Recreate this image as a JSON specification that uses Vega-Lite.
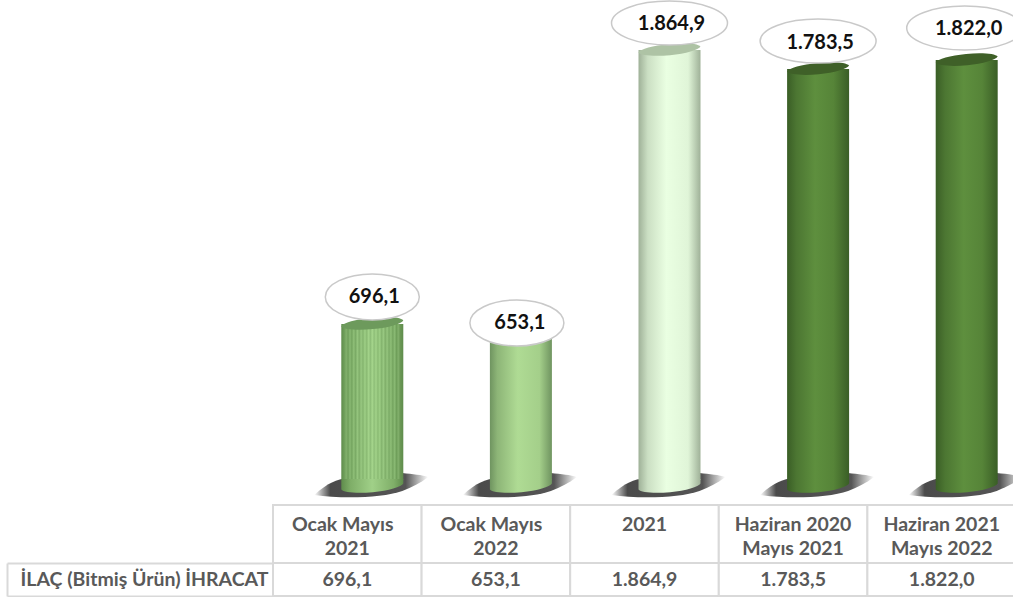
{"$schema":"https://vega.github.io/schema/vega-lite/v6.json","padding":{"left":0,"right":0,"top":-2,"bottom":0},"background":"white","spacing":0,"bounds":"flush","config":{"view":{"stroke":null},"text":{"font":"Lato"},"axis":{"labelFont":"Lato"}},
"data":{"values":[
{"donem":"Ocak Mayıs 2021","deger":696.1,"etiket":"696,1","satir1":"Ocak Mayıs","satir2":"2021"},
{"donem":"Ocak Mayıs 2022","deger":653.1,"etiket":"653,1","satir1":"Ocak Mayıs","satir2":"2022"},
{"donem":"2021","deger":1864.9,"etiket":"1.864,9","satir1":"2021","satir2":""},
{"donem":"Haziran 2020 Mayıs 2021","deger":1783.5,"etiket":"1.783,5","satir1":"Haziran 2020","satir2":"Mayıs 2021"},
{"donem":"Haziran 2021 Mayıs 2022","deger":1822.0,"etiket":"1.822,0","satir1":"Haziran 2021","satir2":"Mayıs 2022"}]},
"vconcat":[
{"width":743,"height":505,
"encoding":{"x":{"field":"donem","type":"nominal","sort":null,"axis":null,"scale":{"domain":["Ocak Mayıs 2021","Ocak Mayıs 2022","2021","Haziran 2020 Mayıs 2021","Haziran 2021 Mayıs 2022"],"range":[25,768],"padding":0}},
"y":{"field":"deger","type":"quantitative","axis":null,"stack":null,"scale":{"domain":[-76.8,2078.5],"nice":false,"zero":false}}},
"layer":[
{"mark":{"type":"point","filled":true,"opacity":1,"fill":{"gradient":"linear","x1":0,"x2":1,"y1":0,"y2":0,"stops":[{"offset":0,"color":"rgba(55,55,55,0)"},{"offset":0.14,"color":"rgba(55,55,55,0.9)"},{"offset":0.8,"color":"rgba(55,55,55,0.85)"},{"offset":1,"color":"rgba(55,55,55,0)"}]}},
"encoding":{"y":{"datum":0,"type":"quantitative"},"size":{"value":4},"shape":{"value":"M-58,8 C-45,-4 -35,-8 -25,-9 L30,-14 C40,-13 50,-12 56,-10 C48,-4 40,0 30,4 C10,11 -30,12 -58,8 Z"}}},
{"transform":[{"filter":"datum.donem==='Ocak Mayıs 2021'"}],"layer":[
{"mark":{"type":"bar","size":62,"fill":{"gradient":"linear","x1":0,"x2":1,"y1":0,"y2":0,"stops":[{"offset":0,"color":"#5f8c4c"},{"offset":0.05,"color":"#6f9f5a"},{"offset":0.08,"color":"#82b06c"},{"offset":0.11,"color":"#6f9f5a"},{"offset":0.14,"color":"#8aba74"},{"offset":0.17,"color":"#74a45f"},{"offset":0.2,"color":"#8fbf78"},{"offset":0.23,"color":"#7aaa65"},{"offset":0.26,"color":"#95c57e"},{"offset":0.29,"color":"#7fae69"},{"offset":0.32,"color":"#98c881"},{"offset":0.35,"color":"#84b46e"},{"offset":0.38,"color":"#9ecf86"},{"offset":0.41,"color":"#8aba73"},{"offset":0.44,"color":"#a3d38a"},{"offset":0.47,"color":"#8ebe78"},{"offset":0.5,"color":"#a6d68d"},{"offset":0.53,"color":"#8ebe78"},{"offset":0.56,"color":"#a3d38a"},{"offset":0.59,"color":"#8aba73"},{"offset":0.62,"color":"#9ecf86"},{"offset":0.65,"color":"#84b46e"},{"offset":0.68,"color":"#98c881"},{"offset":0.71,"color":"#7fae69"},{"offset":0.74,"color":"#95c57e"},{"offset":0.77,"color":"#7aaa65"},{"offset":0.8,"color":"#8fbf78"},{"offset":0.83,"color":"#74a45f"},{"offset":0.86,"color":"#8aba74"},{"offset":0.89,"color":"#6f9f5a"},{"offset":0.92,"color":"#82b06c"},{"offset":0.95,"color":"#6a9855"},{"offset":1,"color":"#5f8c4c"}]}},"encoding":{"y2":{"datum":30}}},
{"mark":{"type":"point","filled":true,"opacity":1,"fill":{"gradient":"linear","x1":0,"x2":1,"y1":0,"y2":0,"stops":[{"offset":0,"color":"#5f8c4c"},{"offset":0.15,"color":"#7fae68"},{"offset":0.5,"color":"#a0d088"},{"offset":0.85,"color":"#7fae68"},{"offset":1,"color":"#5f8c4c"}]}},"encoding":{"y":{"datum":0,"type":"quantitative"},"size":{"value":4},"shape":{"value":"M-31,2.5 A31.4,6.5 -5.5 0 0 31,-3.5 L31,-8 L-31,-8 Z"}}}]},
{"transform":[{"filter":"datum.donem==='Ocak Mayıs 2022'"}],"layer":[
{"mark":{"type":"bar","size":62,"fill":{"gradient":"linear","x1":0,"x2":1,"y1":0,"y2":0,"stops":[{"offset":0,"color":"#6f9460"},{"offset":0.12,"color":"#8db577"},{"offset":0.45,"color":"#afdb94"},{"offset":0.8,"color":"#a4cf8a"},{"offset":1,"color":"#6f9460"}]}},"encoding":{"y2":{"datum":30}}},
{"mark":{"type":"point","filled":true,"opacity":1,"fill":{"gradient":"linear","x1":0,"x2":1,"y1":0,"y2":0,"stops":[{"offset":0,"color":"#6f9460"},{"offset":0.12,"color":"#8db577"},{"offset":0.45,"color":"#afdb94"},{"offset":0.8,"color":"#a4cf8a"},{"offset":1,"color":"#6f9460"}]}},"encoding":{"y":{"datum":0,"type":"quantitative"},"size":{"value":4},"shape":{"value":"M-31,2.5 A31.4,6.5 -5.5 0 0 31,-3.5 L31,-8 L-31,-8 Z"}}}]},
{"transform":[{"filter":"datum.donem==='2021'"}],"layer":[
{"mark":{"type":"bar","size":62,"fill":{"gradient":"linear","x1":0,"x2":1,"y1":0,"y2":0,"stops":[{"offset":0,"color":"#9fb198"},{"offset":0.15,"color":"#cbdfc3"},{"offset":0.45,"color":"#eaffe2"},{"offset":0.8,"color":"#e0f5d8"},{"offset":1,"color":"#9fb198"}]}},"encoding":{"y2":{"datum":30}}},
{"mark":{"type":"point","filled":true,"opacity":1,"fill":{"gradient":"linear","x1":0,"x2":1,"y1":0,"y2":0,"stops":[{"offset":0,"color":"#9fb198"},{"offset":0.15,"color":"#cbdfc3"},{"offset":0.45,"color":"#eaffe2"},{"offset":0.8,"color":"#e0f5d8"},{"offset":1,"color":"#9fb198"}]}},"encoding":{"y":{"datum":0,"type":"quantitative"},"size":{"value":4},"shape":{"value":"M-31,2.5 A31.4,6.5 -5.5 0 0 31,-3.5 L31,-8 L-31,-8 Z"}}}]},
{"transform":[{"filter":"datum.donem==='Haziran 2020 Mayıs 2021' || datum.donem==='Haziran 2021 Mayıs 2022'"}],"layer":[
{"mark":{"type":"bar","size":62,"fill":{"gradient":"linear","x1":0,"x2":1,"y1":0,"y2":0,"stops":[{"offset":0,"color":"#3a5e26"},{"offset":0.15,"color":"#4c7632"},{"offset":0.45,"color":"#5e8f3e"},{"offset":0.75,"color":"#568438"},{"offset":1,"color":"#3a5e26"}]}},"encoding":{"y2":{"datum":30}}},
{"mark":{"type":"point","filled":true,"opacity":1,"fill":{"gradient":"linear","x1":0,"x2":1,"y1":0,"y2":0,"stops":[{"offset":0,"color":"#3a5e26"},{"offset":0.15,"color":"#4c7632"},{"offset":0.45,"color":"#5e8f3e"},{"offset":0.75,"color":"#568438"},{"offset":1,"color":"#3a5e26"}]}},"encoding":{"y":{"datum":0,"type":"quantitative"},"size":{"value":4},"shape":{"value":"M-31,2.5 A31.4,6.5 -5.5 0 0 31,-3.5 L31,-8 L-31,-8 Z"}}}]},
{"mark":{"type":"point","filled":true,"opacity":1},"encoding":{"size":{"value":4},"shape":{"value":"M-31,2.5 A31.4,6.5 -5.5 0 1 31,-3.5 A31.4,6.5 -5.5 0 1 -31,2.5 Z"},
"fill":{"field":"donem","type":"nominal","legend":null,"scale":{"domain":["Ocak Mayıs 2021","Ocak Mayıs 2022","2021","Haziran 2020 Mayıs 2021","Haziran 2021 Mayıs 2022"],"range":["#6d9a5c","#7fa86c","#aec3a5","#3f6028","#3f6028"]}}}},
{"mark":{"type":"point","filled":true,"opacity":1,"fill":"white","stroke":"#c9c9c9","strokeWidth":1.5},"encoding":{"size":{"value":4},
"shape":{"field":"donem","type":"nominal","legend":null,"scale":{"domain":["Ocak Mayıs 2021","Ocak Mayıs 2022","2021","Haziran 2020 Mayıs 2021","Haziran 2021 Mayıs 2022"],"range":[
"M-47,-27 A47,23 0 1 1 47,-27 A47,23 0 1 1 -47,-27 Z",
"M-51,-11 A47,23 0 1 1 43,-11 A47,23 0 1 1 -51,-11 Z",
"M-58,-27 A58,22 0 1 1 58,-27 A58,22 0 1 1 -58,-27 Z",
"M-58,-28 A58,22 0 1 1 58,-28 A58,22 0 1 1 -58,-28 Z",
"M-60,-32 A58,22 0 1 1 56,-32 A58,22 0 1 1 -60,-32 Z"]}}}},
{"transform":[{"filter":"datum.donem!=='Ocak Mayıs 2022' && datum.donem!=='Haziran 2021 Mayıs 2022'"}],"mark":{"type":"text","font":"Lato","fontWeight":"bold","fontSize":20,"color":"#111111","xOffset":2,"yOffset":-26.5},"encoding":{"text":{"field":"etiket"}}},
{"transform":[{"filter":"datum.donem==='Ocak Mayıs 2022'"}],"mark":{"type":"text","font":"Lato","fontWeight":"bold","fontSize":20,"color":"#111111","xOffset":-1,"yOffset":-11},"encoding":{"text":{"field":"etiket"}}},
{"transform":[{"filter":"datum.donem==='Haziran 2021 Mayıs 2022'"}],"mark":{"type":"text","font":"Lato","fontWeight":"bold","fontSize":20,"color":"#111111","xOffset":2,"yOffset":-31},"encoding":{"text":{"field":"etiket"}}}
]},
{"width":743,"height":58,
"encoding":{"x":{"field":"donem","type":"nominal","sort":null,"axis":null,"scale":{"domain":["Ocak Mayıs 2021","Ocak Mayıs 2022","2021","Haziran 2020 Mayıs 2021","Haziran 2021 Mayıs 2022"],"padding":0}}},
"layer":[
{"mark":{"type":"rect","fill":"white","stroke":"#d9d9d9","strokeWidth":2}},
{"transform":[{"filter":"datum.satir1==='Ocak Mayıs'"}],"mark":{"type":"text","font":"Lato","fontWeight":"bold","fontSize":19.5,"color":"#595959","xOffset":-4.5},"encoding":{"text":{"field":"satir1"},"y":{"datum":"1","type":"nominal","axis":null,"scale":{"domain":["1","2"],"range":[8,56]}}}},
{"transform":[{"filter":"datum.satir1!=='Ocak Mayıs'"}],"mark":{"type":"text","font":"Lato","fontWeight":"bold","fontSize":19.5,"color":"#595959"},"encoding":{"text":{"field":"satir1"},"y":{"datum":"1","type":"nominal","axis":null,"scale":{"domain":["1","2"],"range":[8,56]}}}},
{"mark":{"type":"text","font":"Lato","fontWeight":"bold","fontSize":19.5,"color":"#595959"},"encoding":{"text":{"field":"satir2"},"y":{"datum":"2","type":"nominal","axis":null,"scale":{"domain":["1","2"],"range":[8,56]}}}}
]},
{"width":743,"height":33,
"encoding":{"x":{"field":"donem","type":"nominal","sort":null,"axis":null,"scale":{"domain":["Ocak Mayıs 2021","Ocak Mayıs 2022","2021","Haziran 2020 Mayıs 2021","Haziran 2021 Mayıs 2022"],"padding":0}}},
"resolve":{"axis":{"y":"independent"}},
"layer":[
{"mark":{"type":"rect","fill":"white","stroke":"#d9d9d9","strokeWidth":2},"encoding":{"y":{"datum":"İLAÇ (Bitmiş Ürün) İHRACAT","type":"nominal","title":null,"axis":{"orient":"left","domain":false,"ticks":true,"tickBand":"extent","tickSize":266,"tickColor":"#d9d9d9","tickWidth":2,"labelFontSize":19.5,"labelFontWeight":"bold","labelColor":"#595959","labelPadding":-261,"labelLimit":300,"minExtent":273,"maxExtent":273},"scale":{"padding":0}}}},
{"mark":{"type":"text","font":"Lato","fontWeight":"bold","fontSize":19.5,"color":"#595959"},"encoding":{"text":{"field":"etiket"},"y":{"datum":"İLAÇ (Bitmiş Ürün) İHRACAT","type":"nominal","title":null,"axis":{"orient":"left","offset":266,"domain":true,"domainColor":"#d9d9d9","domainWidth":2,"ticks":false,"labels":false,"minExtent":0,"maxExtent":0},"scale":{"padding":0}}}}
]}
]}
